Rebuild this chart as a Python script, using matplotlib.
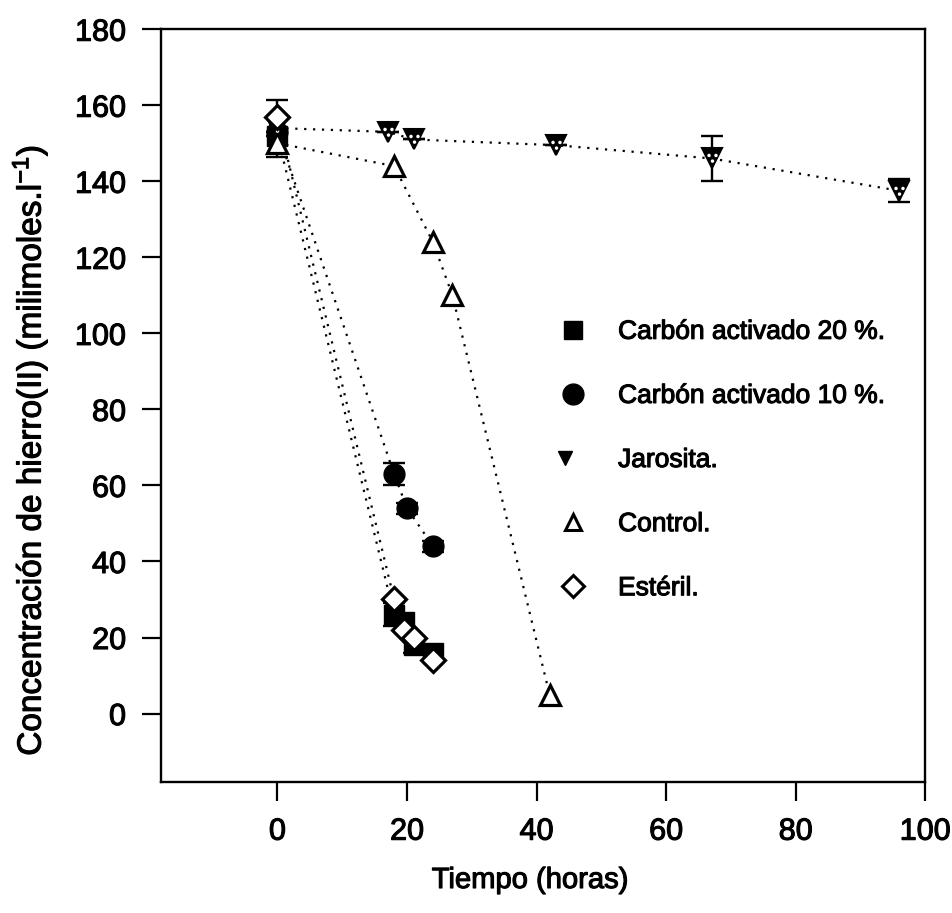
import numpy as np
import matplotlib
matplotlib.use("Agg")
import matplotlib.pyplot as plt
import matplotlib.patheffects as pe
from matplotlib.path import Path
from matplotlib.transforms import Affine2D
from matplotlib.legend_handler import HandlerTuple

plt.rcParams["font.family"] = ["Liberation Sans", "DejaVu Sans"]
plt.rcParams["mathtext.fontset"] = "custom"
plt.rcParams["mathtext.rm"] = "Liberation Sans"
plt.rcParams["mathtext.it"] = "Liberation Sans"

# Fe(II) concentration (mmol/L) versus time (h)
t_c20 = [0, 18, 19.5, 21, 24]
c20 = [152, 26, 24, 18, 16]
c20_err = [0, 3, 0, 2, 0]

t_c10 = [0, 18, 20, 24]
c10 = [153, 63, 54, 44]
c10_err = [0, 3, 1.5, 1.5]

t_jar = [0, 17, 21, 43, 67, 96]
jar = [154, 153, 151, 149.5, 146, 137.5]
jar_err = [7.5, 0, 0, 0, 6, 3]

t_ctl = [0, 18, 24, 27, 42]
ctl = [150, 144, 124, 110, 5]

t_est = [0, 18, 19.5, 21, 24]
est = [157, 30, 22, 20, 14]

labels = ["Carbón activado 20 %.", "Carbón activado 10 %.", "Jarosita.",
          "Control.", "Estéril."]

x_ticks = [0, 20, 40, 60, 80, 100]
y_ticks = [0, 20, 40, 60, 80, 100, 120, 140, 160, 180]

fig = plt.figure(figsize=(9.52, 9.13), dpi=100)
ax = fig.add_axes([0.169, 0.1435, 0.803, 0.8245])

heavy = [pe.withStroke(linewidth=0.8, foreground="black")]

dot = (0, (1, 3))
lw_line = 1.6
ebkw = dict(ecolor="black", elinewidth=1.7, capsize=8, capthick=1.7)

# speckle path used inside the dark triangles
circ = Path.unit_circle()
spots = Path.make_compound_path(
    circ.transformed(Affine2D().scale(0.2).translate(-0.4, 0.35)),
    circ.transformed(Affine2D().scale(0.2).translate(0.4, 0.35)),
    circ.transformed(Affine2D().scale(0.2).translate(0.0, -0.3)),
)

ms = 14

# lines
for tx, vy in [(t_c20, c20), (t_c10, c10), (t_jar, jar), (t_ctl, ctl), (t_est, est)]:
    ax.plot(tx, vy, linestyle=dot, color="black", lw=lw_line, zorder=1)

# error bars
ax.errorbar(t_c20, c20, yerr=c20_err, fmt="none", zorder=2, **ebkw)
ax.errorbar(t_c10, c10, yerr=c10_err, fmt="none", zorder=2, **ebkw)
ax.errorbar(t_jar, jar, yerr=jar_err, fmt="none", zorder=2, **ebkw)

# markers
h_c20, = ax.plot(t_c20, c20, ls="none", marker="s", ms=ms, mfc="black",
                 mec="black", zorder=3)
h_c10, = ax.plot(t_c10, c10, ls="none", marker="o", ms=ms + 1, mfc="black",
                 mec="black", zorder=3)
h_jar, = ax.plot(t_jar, jar, ls="none", marker="v", ms=ms + 1, mfc="black",
                 mec="black", mew=1.5, zorder=3)
h_jar_s, = ax.plot(t_jar, jar, ls="none", marker=spots, ms=7.5, mfc="white",
                   mec="none", zorder=4)
h_ctl, = ax.plot(t_ctl, ctl, ls="none", marker="^", ms=ms + 1, mfc="white",
                 mec="black", mew=2.3, zorder=3)
h_est, = ax.plot(t_est, est, ls="none", marker="D", ms=ms - 2, mfc="white",
                 mec="black", mew=2.3, zorder=5)

# legend handles (slightly smaller triangles, as in the key)
l_c20, = ax.plot([], [], ls="none", marker="s", ms=13, mfc="black", mec="black")
l_c10, = ax.plot([], [], ls="none", marker="o", ms=15, mfc="black", mec="black")
l_jar, = ax.plot([], [], ls="none", marker="v", ms=10.5, mfc="black", mec="black")
l_jar_s, = ax.plot([], [], ls="none", marker=spots, ms=5.5, mfc="white", mec="none")
l_ctl, = ax.plot([], [], ls="none", marker="^", ms=12, mfc="white", mec="black", mew=2.2)
l_est, = ax.plot([], [], ls="none", marker="D", ms=11.5, mfc="white", mec="black", mew=2.2)

leg = ax.legend([l_c20, l_c10, (l_jar, l_jar_s), l_ctl, l_est], labels,
                handler_map={tuple: HandlerTuple(ndivide=None)},
                loc="upper left", bbox_to_anchor=(0.51, 0.628),
                frameon=False, fontsize=19, labelspacing=1.52,
                handlelength=0.9, handletextpad=1.25, borderaxespad=0.0)
for txt in leg.get_texts():
    txt.set_path_effects(heavy)

ax.set_xlim(-18, 100)
ax.set_ylim(-18, 180)
ax.set_xticks(x_ticks)
ax.set_yticks(y_ticks)
ax.tick_params(direction="out", length=14, width=1.6, pad=11, labelsize=22,
               top=False, right=False)
for lab in ax.get_xticklabels() + ax.get_yticklabels():
    lab.set_path_effects(heavy)

for sp in ax.spines.values():
    sp.set_linewidth(1.7)

fig.text(530 / 952, 1 - 880 / 913, "Tiempo (horas)", fontsize=21,
         ha="center", va="center", path_effects=heavy)
fig.text(30 / 952, 1 - 450 / 913,
         r"Concentración de hierro(II) (milimoles.l$^{-1}$)",
         fontsize=24, rotation=90, ha="center", va="center",
         path_effects=heavy)

fig.savefig("out.png", dpi=100)
